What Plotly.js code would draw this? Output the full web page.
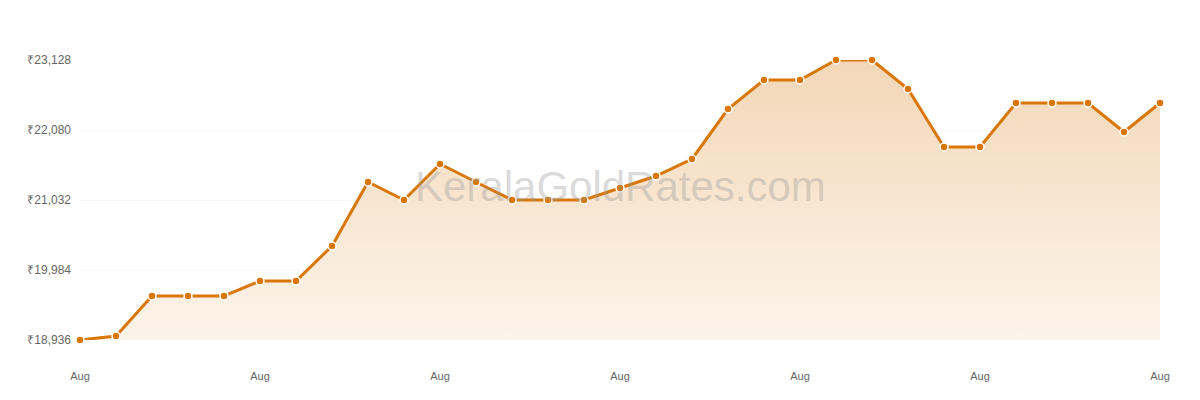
<!DOCTYPE html>
<html>
  <head>
    <meta charset="utf-8" />
    <title>Kerala Gold Rates - August</title>
    <script src="https://cdn.plot.ly/plotly-3.0.1.min.js"></script>
    <style>
      body {
        margin: 0;
        padding: 0;
        background-color: white;
        overflow: hidden;
      }
      #graphDiv {
        width: 1200px;
        height: 400px;
      }
    </style>
  </head>
  <body>
    <div id="graphDiv"></div>
    <script>
      const days = [1, 2, 3, 4, 5, 6, 7, 8, 9, 10, 11, 12, 13, 14, 15, 16,
        17, 18, 19, 20, 21, 22, 23, 24, 25, 26, 27, 28, 29, 30, 31];
      const prices = [18936, 18996, 19595, 19595, 19595, 19819, 19819, 20343,
        21301, 21032, 21571, 21301, 21032, 21032, 21032, 21212, 21391, 21646,
        22394, 22829, 22829, 23128, 23128, 22694, 21826, 21826, 22484, 22484,
        22484, 22050, 22484];
      const y_ticks = [18936, 19984, 21032, 22080, 23128];
      const y_tick_labels = ["₹18,936", "₹19,984", "₹21,032", "₹22,080", "₹23,128"];
      const x_ticks = [1, 6, 11, 16, 21, 26, 31];
      const x_tick_labels = ["Aug", "Aug", "Aug", "Aug", "Aug", "Aug", "Aug"];

      const line_color = "#D97706";
      const y_min = 18936;
      const y_max = 23128;

      const traces = [
        {
          x: days,
          y: prices,
          type: "scatter",
          mode: "lines+markers",
          line: { color: line_color, width: 3 },
          marker: {
            size: 8,
            color: line_color,
            line: { width: 1.5, color: "white" },
          },
          fill: "tozeroy",
          fillgradient: {
            type: "vertical",
            start: y_min,
            stop: y_max,
            colorscale: [
              [0, "rgba(252, 244, 234, 1)"],
              [1, "rgba(243, 215, 183, 1)"],
            ],
          },
          cliponaxis: false,
          hoverinfo: "x+y",
          showlegend: false,
        },
      ];

      const layout = {
        width: 1200,
        height: 400,
        showlegend: false,
        plot_bgcolor: "white",
        paper_bgcolor: "white",
        font: { family: "Liberation Sans, Arial, sans-serif", color: "#666666" },
        margin: { l: 80, r: 40, t: 60, b: 60 },
        xaxis: {
          range: [1, 31],
          tickvals: x_ticks,
          ticktext: x_tick_labels,
          showgrid: false,
          zeroline: false,
          showline: false,
          ticks: "",
          ticklabelstandoff: 28,
          tickfont: { size: 11, color: "#666666" },
        },
        yaxis: {
          range: [y_min, y_max],
          tickvals: y_ticks,
          ticktext: y_tick_labels,
          showgrid: true,
          gridcolor: "rgba(0,0,0,0.035)",
          gridwidth: 1,
          zeroline: false,
          showline: false,
          ticks: "",
          ticklabelstandoff: 8,
          tickfont: { size: 12, color: "#666666" },
          layer: "above traces",
        },
        annotations: [
          {
            xref: "paper",
            yref: "paper",
            x: 0.5,
            y: 0.55,
            text: "KeralaGoldRates.com",
            showarrow: false,
            font: { size: 42, color: "rgba(150, 150, 150, 0.35)", family: "Liberation Sans, Arial, sans-serif" },
          },
        ],
      };

      Plotly.newPlot("graphDiv", traces, layout, { displayModeBar: false });
    </script>
  </body>
</html>
